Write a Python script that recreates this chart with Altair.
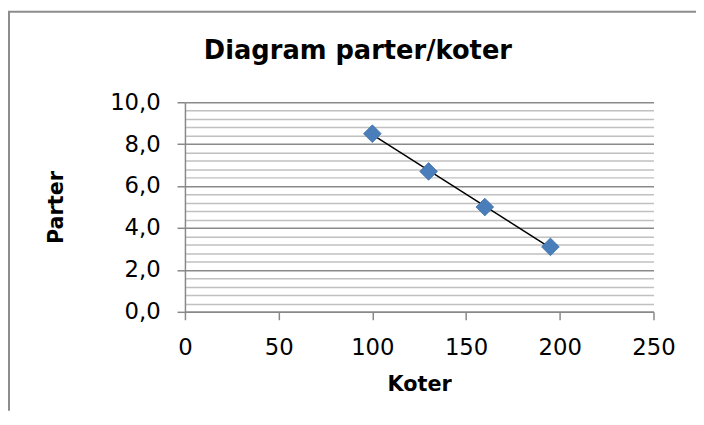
import altair as alt
import pandas as pd

# Data
koter = [100, 130, 160, 195]
parter = [8.5, 6.7, 5.0, 3.1]

x_ticks = [0, 50, 100, 150, 200, 250]
y_ticks = [0.0, 0.4, 0.8, 1.2, 1.6, 2.0, 2.4, 2.8, 3.2, 3.6, 4.0, 4.4, 4.8,
           5.2, 5.6, 6.0, 6.4, 6.8, 7.2, 7.6, 8.0, 8.4, 8.8, 9.2, 9.6, 10.0]

df = pd.DataFrame({"Koter": koter, "Parter": parter})

FONT = "DejaVu Sans"
W, H = 474, 212
PAD_L, PAD_T, PAD_R, PAD_B = 179, 93, 43, 100

major_test = "abs(datum.value/2 - round(datum.value/2)) < 0.01"

x_enc = alt.X(
    "Koter:Q",
    scale=alt.Scale(domain=[0, 250], nice=False, zero=False),
    axis=alt.Axis(
        values=x_ticks, tickCount=len(x_ticks), title="Koter", grid=False,
        labelFlush=False, labelOverlap=False,
        domainColor="#888888", domainWidth=1.5,
        tickColor="#888888", tickWidth=1.5, tickSize=8,
        labelFont=FONT, labelFontSize=23, labelColor="#000000", labelPadding=17,
        titleFont=FONT, titleFontSize=21, titleFontWeight="bold", titleColor="#000000",
        titleBaseline="middle", titleY=74,
    ),
)

y_enc = alt.Y(
    "Parter:Q",
    scale=alt.Scale(domain=[0, 10], nice=False, zero=False),
    axis=alt.Axis(
        values=y_ticks, tickCount=len(y_ticks) + 4, title="Parter",
        labelExpr=f"({major_test}) ? replace(format(datum.value, '.1f'), '.', ',') : ''",
        labelOverlap=False, labelFlush=False,
        grid=True,
        gridColor={"condition": {"test": major_test, "value": "#8a8a8a"}, "value": "#c0c0c0"},
        gridWidth=1.5,
        tickOpacity={"condition": {"test": major_test, "value": 1}, "value": 0},
        domainColor="#888888", domainWidth=1.5,
        tickColor="#888888", tickWidth=1.5, tickSize=8,
        labelFont=FONT, labelFontSize=23, labelColor="#000000", labelPadding=17,
        titleFont=FONT, titleFontSize=21, titleFontWeight="bold", titleColor="#000000",
        titleAngle=-90, titleBaseline="middle", titleAlign="center",
        titleX=-130, titleY=106,
    ),
)

base = alt.Chart(df)

trend = base.transform_regression("Koter", "Parter").mark_line(
    color="#000000", strokeWidth=1.5
).encode(x=x_enc, y=y_enc)

points = base.mark_point(
    shape="diamond", filled=True, size=320, color="#4A7EBB",
    stroke="#3F6FA8", strokeWidth=0.8, opacity=1
).encode(x="Koter:Q", y="Parter:Q")

frame_left = alt.Chart(pd.DataFrame({"a": [0]})).mark_rule(
    color="#8c8c8c", strokeWidth=2
).encode(x=alt.value(-PAD_L + 1), y=alt.value(-PAD_T + 1.5), y2=alt.value(H + PAD_B))

frame_top = alt.Chart(pd.DataFrame({"a": [0]})).mark_rule(
    color="#8c8c8c", strokeWidth=2
).encode(x=alt.value(-PAD_L), x2=alt.value(W + PAD_R), y=alt.value(-PAD_T + 1.5))

chart = alt.layer(frame_left, frame_top, trend, points).properties(
    width=W, height=H,
    title=alt.TitleParams(
        "Diagram parter/koter", font=FONT, fontSize=26, fontWeight="bold",
        color="#000000", anchor="middle", dx=-62, offset=0, dy=75, baseline="alphabetic",
    ),
    autosize=alt.AutoSizeParams(type="none"),
    padding={"left": PAD_L, "top": PAD_T, "right": PAD_R, "bottom": PAD_B},
    background="#ffffff",
).configure_view(stroke=None)

chart.save("out.html", embed_options={"renderer": "svg", "actions": False})
